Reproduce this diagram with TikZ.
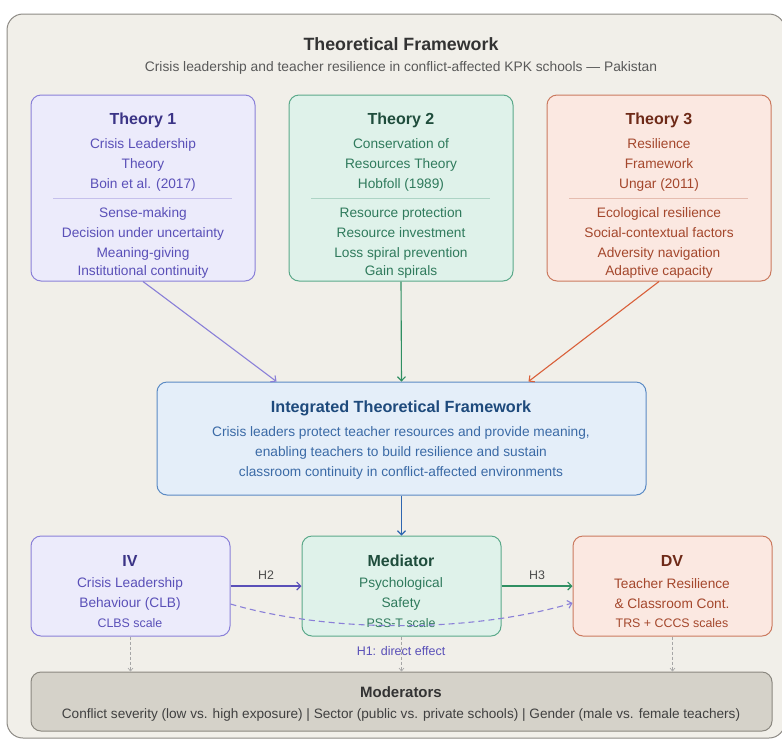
\documentclass[tikz,border=0pt]{standalone}
\usepackage{fontspec}
\setmainfont{Liberation Sans}
\usetikzlibrary{arrows.meta,positioning}

\definecolor{bgfill}{HTML}{F1EFE9}
\definecolor{bgline}{HTML}{8D8A85}
\definecolor{purfill}{HTML}{ECEBFB}
\definecolor{purline}{HTML}{8A80D8}
\definecolor{purdark}{HTML}{3B3486}
\definecolor{purtext}{HTML}{5A50B8}
\definecolor{grnfill}{HTML}{DFF2EA}
\definecolor{grnline}{HTML}{5BA98A}
\definecolor{grndark}{HTML}{1F4D3C}
\definecolor{grntext}{HTML}{2F7A5C}
\definecolor{grnarrow}{HTML}{2F8F62}
\definecolor{orafill}{HTML}{FBE8E1}
\definecolor{oraline}{HTML}{CB7A5F}
\definecolor{oradark}{HTML}{6E2A18}
\definecolor{oratext}{HTML}{A4472C}
\definecolor{oraarrow}{HTML}{D9603A}
\definecolor{blufill}{HTML}{E4EEF9}
\definecolor{bluline}{HTML}{5A8AC4}
\definecolor{bludark}{HTML}{1E4A7C}
\definecolor{blutext}{HTML}{3A6AA6}
\definecolor{bluarrow}{HTML}{2E66B0}
\definecolor{modfill}{HTML}{D5D2C9}
\definecolor{modline}{HTML}{8B8880}

\tikzset{
  box/.style={draw, rounded corners=10pt, line width=1pt},
  hd/.style={font=\bfseries\fontsize{16}{19}\selectfont},
  txt/.style={align=center, font=\fontsize{13.7}{20}\selectfont},
  small/.style={font=\fontsize{12.4}{14}\selectfont},
  link/.style={line width=1.1pt, -{Straight Barb[length=4pt,width=8pt]}},
  modlink/.style={gray!70, densely dashed, line width=0.6pt, -{Straight Barb[length=3pt,width=5pt]}}
}

\begin{document}
\begin{tikzpicture}[x=1pt,y=-1pt]
  \useasboundingbox (0,0) rectangle (782,740);
  \node[box, fill=bgfill, draw=bgline, minimum width=778pt, minimum height=724pt, rounded corners=16pt] (frame) at (396,376) {};

  \node[font=\bfseries\fontsize{17.8}{21}\selectfont, text=black!80] (title) at (401,44) {Theoretical Framework};
  \node[font=\fontsize{13.8}{16}\selectfont, text=black!65] (subtitle) at (401,68) {Crisis leadership and teacher resilience in conflict-affected KPK schools — Pakistan};

  % theories
  \node[box, fill=purfill, draw=purline, minimum width=224pt, minimum height=186pt] (t1) at (143,188) {};
  \node[hd, text=purdark] (t1h) at (143,120) {Theory 1};
  \node[txt, text=purtext] (t1a) at (143,165) {Crisis Leadership\\Theory\\Boin et al. (2017)};
  \draw[purline!50] (53,198) -- (232,198);
  \node[txt, text=purtext] (t1b) at (143,243) {Sense-making\\Decision under uncertainty\\Meaning-giving\\[-2pt]Institutional continuity};

  \node[box, fill=grnfill, draw=grnline, minimum width=224pt, minimum height=186pt] (t2) at (401,188) {};
  \node[hd, text=grndark] (t2h) at (401,120) {Theory 2};
  \node[txt, text=grntext] (t2a) at (401,165) {Conservation of\\Resources Theory\\Hobfoll (1989)};
  \draw[grnline!50] (311,198) -- (490,198);
  \node[txt, text=grntext] (t2b) at (401,243) {Resource protection\\Resource investment\\Loss spiral prevention\\[-2pt]Gain spirals};

  \node[box, fill=orafill, draw=oraline, minimum width=224pt, minimum height=186pt] (t3) at (659,188) {};
  \node[hd, text=oradark] (t3h) at (659,120) {Theory 3};
  \node[txt, text=oratext] (t3a) at (659,165) {Resilience\\Framework\\Ungar (2011)};
  \draw[oraline!50] (569,198) -- (748,198);
  \node[txt, text=oratext] (t3b) at (659,243) {Ecological resilience\\Social-contextual factors\\Adversity navigation\\[-2pt]Adaptive capacity};

  % integration
  \node[box, fill=blufill, draw=bluline, minimum width=489pt, minimum height=113pt] (integ) at (401.5,438.5) {};
  \node[hd, text=bludark, font=\bfseries\fontsize{16.2}{19}\selectfont] (integh) at (401,408) {Integrated Theoretical Framework};
  \node[txt, text=blutext] (integt) at (401,453) {Crisis leaders protect teacher resources and provide meaning,\\enabling teachers to build resilience and sustain\\classroom continuity in conflict-affected environments};

  \draw[link, purline] (t1.south) -- ([xshift=-125pt]integ.north);
  \draw[link, grnarrow] (t2.south) -- (integ.north);
  \draw[link, oraarrow] (t3.south) -- ([xshift=127pt]integ.north);

  % model
  \node[box, fill=purfill, draw=purline, minimum width=199pt, minimum height=100pt] (iv) at (130.5,586) {};
  \node[hd, text=purdark] (ivh) at (130,561) {IV};
  \node[txt, text=purtext] (ivt) at (130,594) {Crisis Leadership\\Behaviour (CLB)};
  \node[small, text=purtext] (ivs) at (130,623) {CLBS scale};

  \node[box, fill=grnfill, draw=grnline, minimum width=199pt, minimum height=100pt] (med) at (401.5,586) {};
  \node[hd, text=grndark] (medh) at (401,561) {Mediator};
  \node[txt, text=grntext] (medt) at (401,594) {Psychological\\Safety};
  \node[small, text=grntext] (meds) at (401,623) {PSS-T scale};

  \node[box, fill=orafill, draw=oraline, minimum width=199pt, minimum height=100pt] (dv) at (672.5,586) {};
  \node[hd, text=oradark] (dvh) at (672,561) {DV};
  \node[txt, text=oratext] (dvt) at (672,594) {Teacher Resilience\\\& Classroom Cont.};
  \node[small, text=oratext] (dvs) at (672,623) {TRS + CCCS scales};

  \draw[link, bluarrow] (integ.south) -- (med.north);
  \draw[link, purtext] (iv.east) -- node[above=3pt, small, text=black!70] (h2) {H2} (med.west);
  \draw[link, grnarrow] (med.east) -- node[above=3pt, small, text=black!70] (h3) {H3} (dv.west);

  % moderators
  \node[box, fill=modfill, draw=modline, minimum width=741pt, minimum height=59pt] (mod) at (401.5,701.5) {};
  \node[font=\bfseries\fontsize{15}{18}\selectfont, text=black!80] (modh) at (401,692) {Moderators};
  \node[font=\fontsize{13.6}{16}\selectfont, text=black!75] (modt) at (401,715) {Conflict severity (low vs. high exposure) | Sector (public vs. private schools) | Gender (male vs. female teachers)};

  \draw[modlink] (iv.south) -- (iv.south |- mod.north);
  \draw[modlink] (med.south) -- (med.south |- mod.north);
  \draw[modlink] (dv.south) -- (dv.south |- mod.north);

  \draw[purline, dashed, line width=1.1pt, dash pattern=on 6pt off 4pt, -{Straight Barb[length=4pt,width=8pt]}]
    ([yshift=-18pt]iv.east) .. controls (330,633) and (470,633) .. ([yshift=-17pt]dv.west);
  \node[small, text=purtext, font=\fontsize{12.5}{14}\selectfont] (h1) at (401,651) {H1: direct effect};
\end{tikzpicture}
\end{document}
